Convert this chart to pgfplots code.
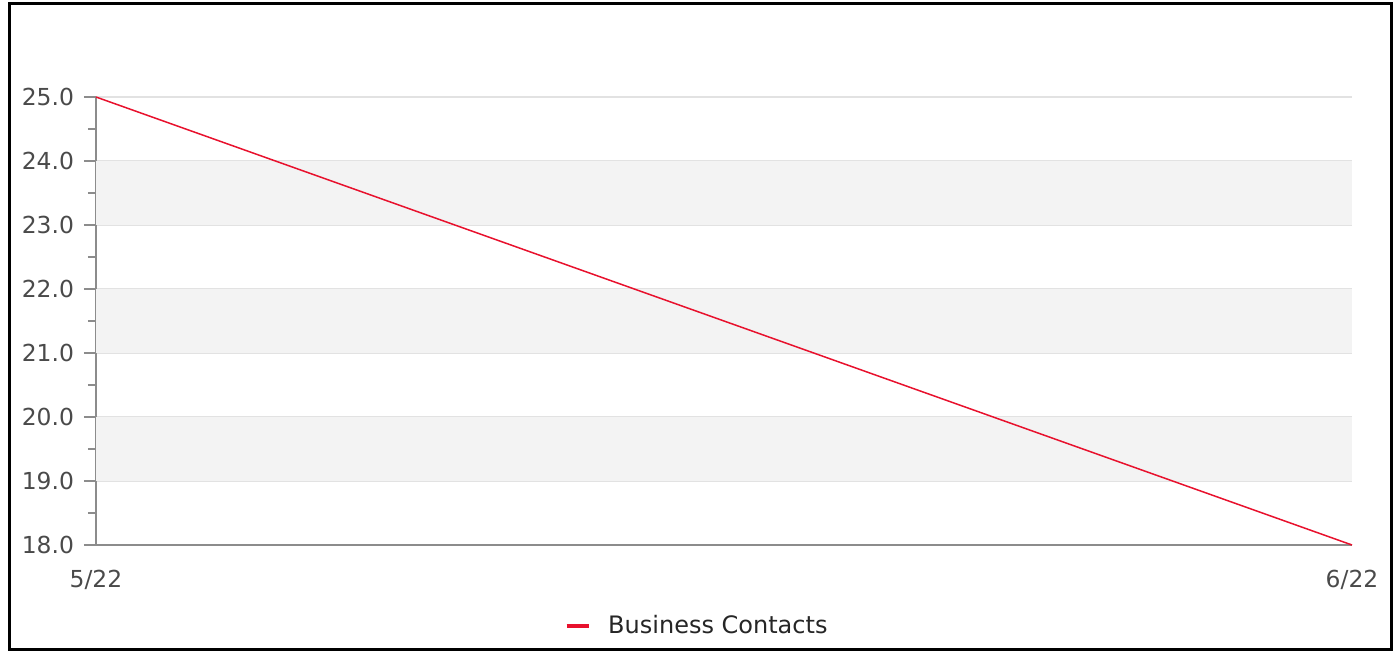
\documentclass[border=0pt]{standalone}
\usepackage{pgfplots}
\pgfplotsset{compat=1.18}
\usepackage{fontspec}
\setmainfont{DejaVu Sans}
\definecolor{linered}{HTML}{E8112D}
\definecolor{band}{HTML}{F3F3F3}
\definecolor{gridc}{HTML}{E2E2E2}
\definecolor{axisc}{HTML}{8C8C8C}
\definecolor{labc}{HTML}{4A4A4A}
\begin{document}
\begin{tikzpicture}
\path[use as bounding box] (0,0) rectangle (699.5pt,326pt);
\draw[line width=1.5pt,black] (4.5pt,1pt) rectangle (695.5pt,324pt);
\begin{axis}[
  at={(48pt,53.5pt)}, anchor=south west,
  scale only axis, width=628pt, height=224pt,
  xmin=0, xmax=1, ymin=18, ymax=25,
  axis lines=left,
  axis line style={axisc, line width=0.8pt, -},
  xtick={0,1}, xticklabels={5/22,6/22},
  major x tick style={draw=none},
  ytick={18,19,...,25},
  minor y tick num=1,
  tick align=outside,
  major tick length=6pt, minor tick length=4pt,
  y tick style={axisc, line width=0.6pt},
  ymajorgrids, grid style={gridc, line width=0.6pt},
  /pgf/number format/fixed,
  /pgf/number format/fixed zerofill,
  /pgf/number format/precision=1,
  /pgf/number format/assume math mode=true,
  tick label style={font=\fontsize{11.7}{13}\selectfont, text=labc},
  yticklabel style={xshift=-1.5pt},
  xticklabel style={yshift=-3pt},
  legend style={draw=none, at={(0.3734,-0.181)}, anchor=west, inner sep=0pt, outer sep=0pt, font=\fontsize{12}{14}\selectfont, text=black!85},
  legend image code/.code={\draw[line width=1.6pt, linered] (0pt,0pt) -- (11pt,0pt);},
  clip=false,
]
\addplot[draw=none, fill=band, forget plot] coordinates {(0,23) (1,23) (1,24) (0,24)} -- cycle;
\addplot[draw=none, fill=band, forget plot] coordinates {(0,21) (1,21) (1,22) (0,22)} -- cycle;
\addplot[draw=none, fill=band, forget plot] coordinates {(0,19) (1,19) (1,20) (0,20)} -- cycle;
\addplot[linered, line width=0.75pt] coordinates {(0,25) (1,18)};
\addlegendentry{\hspace{7pt}Business Contacts}
\end{axis}
\end{tikzpicture}
\end{document}
